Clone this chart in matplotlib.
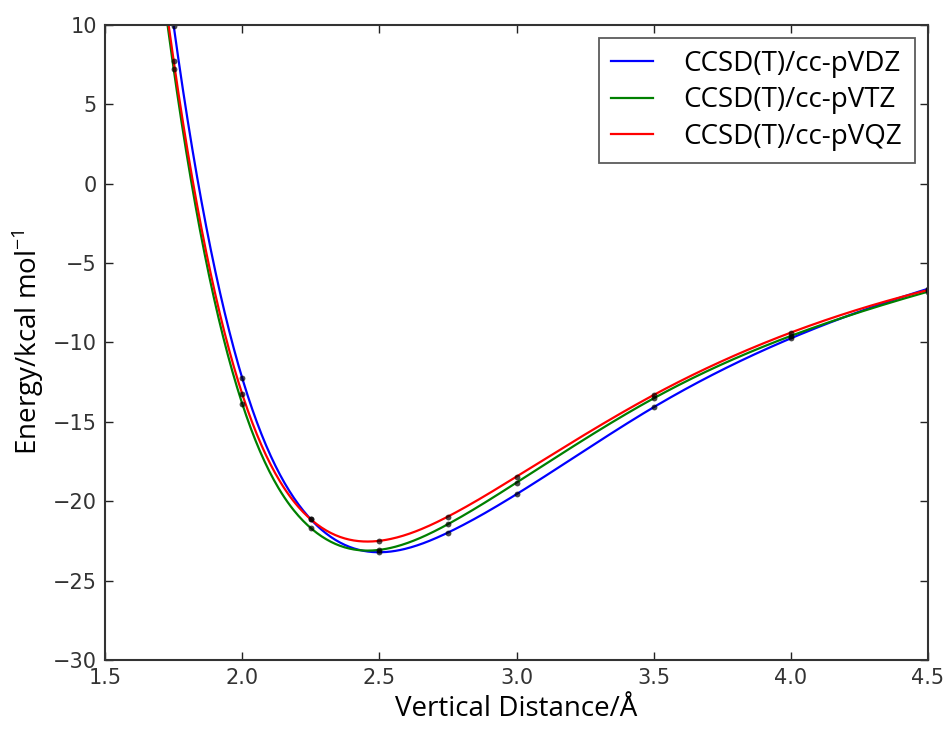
import numpy as np
import matplotlib
matplotlib.use("Agg")
import matplotlib.pyplot as plt

# vertical distance (Angstrom) and CCSD(T) energies (kcal/mol)
DIST = [1.75, 2.0, 2.25, 2.5, 2.75, 3.0, 3.5, 4.0, 4.5]
E_VDZ = [9.95, -12.26, -21.15, -23.22, -21.98, -19.56, -14.08, -9.74, -6.62]
E_VTZ = [7.21, -13.87, -21.70, -23.07, -21.45, -18.83, -13.52, -9.59, -6.80]
E_VQZ = [7.73, -13.26, -21.15, -22.50, -20.97, -18.45, -13.31, -9.38, -6.70]
LABELS = ["CCSD(T)/cc-pVDZ", "CCSD(T)/cc-pVTZ", "CCSD(T)/cc-pVQZ"]
COLORS = ["#0000ff", "#008000", "#ff0000"]


def cubic_spline(x, y, xs):
    """not-a-knot cubic spline (same as scipy's default), numpy only"""
    x = np.asarray(x, float); y = np.asarray(y, float)
    n = len(x); h = np.diff(x)
    A = np.zeros((n, n)); r = np.zeros(n)
    A[0, 0], A[0, 1], A[0, 2] = h[1], -(h[0] + h[1]), h[0]
    A[-1, -3], A[-1, -2], A[-1, -1] = h[-1], -(h[-2] + h[-1]), h[-2]
    for i in range(1, n - 1):
        A[i, i - 1], A[i, i], A[i, i + 1] = h[i - 1], 2 * (h[i - 1] + h[i]), h[i]
        r[i] = 3 * ((y[i + 1] - y[i]) / h[i] - (y[i] - y[i - 1]) / h[i - 1])
    c = np.linalg.solve(A, r)
    b = np.diff(y) / h - h * (2 * c[:-1] + c[1:]) / 3
    d = np.diff(c) / (3 * h)
    k = np.clip(np.searchsorted(x, xs) - 1, 0, n - 2)
    dx = xs - x[k]
    return y[k] + b[k] * dx + c[k] * dx ** 2 + d[k] * dx ** 3


plt.rcParams["font.family"] = ["Open Sans", "DejaVu Sans"]

fig = plt.figure(figsize=(9.47, 7.34), dpi=100)
ax = fig.add_axes([0.111, 0.101, 0.869, 0.865])

xs = np.linspace(1.70, 4.5, 500)
for ys, lab, col in zip([E_VDZ, E_VTZ, E_VQZ], LABELS, COLORS):
    ax.plot(xs, cubic_spline(DIST, ys, xs), color=col, lw=1.6, label=lab)
for ys in [E_VDZ, E_VTZ, E_VQZ]:
    ax.plot(DIST, ys, "o", color="black", ms=4.2, alpha=0.7, mec="none")

ax.set_xlim(1.5, 4.5)
ax.set_ylim(-30, 10)
ax.set_xticks(np.arange(1.5, 4.51, 0.5))
ax.set_yticks(np.arange(-30, 11, 5))
ax.tick_params(direction="in", length=6, width=1, top=True, right=True,
               labelsize=15, pad=6, colors="#222222", labelcolor="#333333")
for lbl in ax.get_xticklabels() + ax.get_yticklabels():
    lbl.set_family(["DejaVu Sans"])
for s in ax.spines.values():
    s.set_linewidth(1.5)
    s.set_color("#333333")

ax.set_xlabel("Vertical Distance/Å", fontsize=20, labelpad=5)
ax.set_ylabel("Energy/kcal mol$^{\\mathregular{-1}}$", fontsize=20, labelpad=5)

leg = ax.legend(loc="upper right", fontsize=20, handlelength=1.5, handletextpad=1.1,
                borderpad=0.45, labelspacing=0.3, borderaxespad=0, fancybox=False,
                bbox_to_anchor=(0.984, 0.98))
leg.get_frame().set_edgecolor("#333333")
leg.get_frame().set_linewidth(1.3)

fig.savefig("out.png", dpi=100)
